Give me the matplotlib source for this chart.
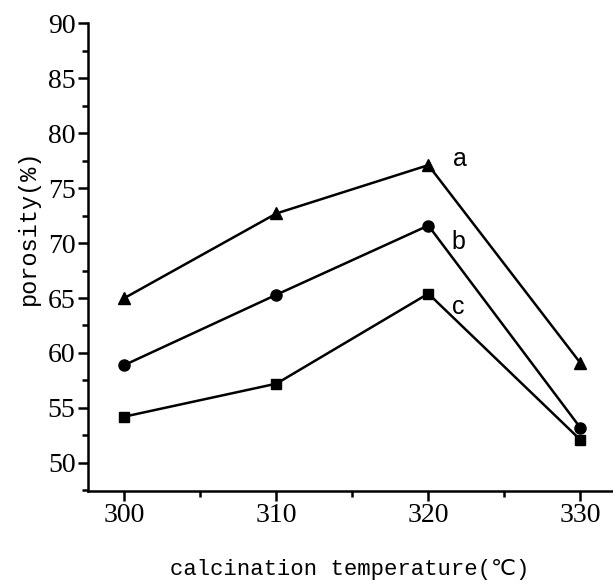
import matplotlib
matplotlib.use('Agg')
from matplotlib import pyplot as plt
from matplotlib.ticker import MultipleLocator

# calcination temperature (C)
temps = [300, 310, 320, 330]
# porosity (%) for the three curves
series_a = [65.0, 72.7, 77.1, 59.1]
series_b = [58.9, 65.3, 71.6, 53.2]
series_c = [54.2, 57.2, 65.4, 52.1]

fig = plt.figure(figsize=(6.13, 5.87), dpi=100)
ax = fig.add_axes([0.1436, 0.164, 0.855, 0.796])

ax.plot(temps, series_a, 'k-^', lw=1.8, markersize=8)
ax.plot(temps, series_b, 'k-o', lw=1.8, markersize=8)
ax.plot(temps, series_c, 'k-s', lw=1.8, markersize=7)

ax.text(322.1, 77.7, 'a', fontsize=18, family='Liberation Sans', ha='center', va='center')
ax.text(322.0, 70.1, 'b', fontsize=18, family='Liberation Sans', ha='center', va='center')
ax.text(322.0, 64.2, 'c', fontsize=18, family='Liberation Sans', ha='center', va='center')

ax.set_xlim(297.6, 332.1)
ax.set_ylim(47.45, 90)
ax.xaxis.set_major_locator(MultipleLocator(10))
ax.xaxis.set_minor_locator(MultipleLocator(5))
ax.yaxis.set_major_locator(MultipleLocator(5))
ax.yaxis.set_minor_locator(MultipleLocator(2.5))

ax.spines['top'].set_visible(False)
ax.spines['right'].set_visible(False)
ax.spines['left'].set_linewidth(1.8)
ax.spines['bottom'].set_linewidth(1.8)

ax.tick_params(which='major', direction='out', length=7, width=1.8, labelsize=20, pad=2)
ax.tick_params(which='minor', direction='out', length=4, width=1.8)
for lbl in ax.get_xticklabels() + ax.get_yticklabels():
    lbl.set_family('Liberation Serif')

ax.set_xlabel('calcination temperature(\u2103)', fontsize=16,
              family=['Liberation Mono', 'DejaVu Sans'], labelpad=22)
ax.set_ylabel('porosity(%)', fontsize=17,
              family=['Liberation Mono', 'DejaVu Sans'])
ax.yaxis.set_label_coords(-0.092, 0.564)

fig.savefig('out.png', dpi=100)
